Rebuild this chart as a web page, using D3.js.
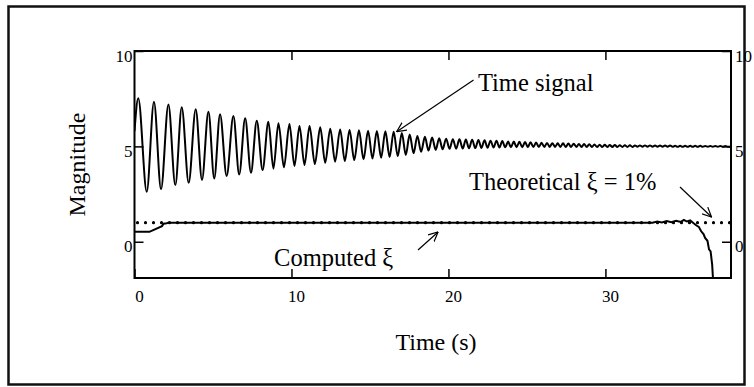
<!DOCTYPE html>
<html>
<head>
<meta charset="utf-8">
<script src="https://cdn.jsdelivr.net/npm/d3@7"></script>
<style>
  body { margin: 0; background: #fff; }
  text { font-family: "Liberation Serif", "Times New Roman", serif; fill: #000; }
</style>
</head>
<body>
<svg id="chart" width="754" height="387"></svg>
<script>
// time signal extrema (s, magnitude)
const startPoint = [0, 5.8];
const endPoint = [38, 5.0];
const peakT = [0.24, 1.24, 2.16, 3.01, 3.90, 4.71, 5.45, 6.30, 7.05, 7.79, 8.53, 9.17, 9.87, 10.51, 11.15, 11.83, 12.47, 13.10, 13.7,
  14.3, 14.88, 15.44, 15.98, 16.51, 17.03, 17.53, 18.02, 18.5, 18.96,
  19.41, 19.85, 20.28, 20.7, 21.11, 21.51, 21.91, 22.3, 22.68, 23.06,
  23.43, 23.8, 24.16, 24.52, 24.88, 25.23, 25.58, 25.93, 26.28, 26.62,
  26.96, 27.3, 27.64, 27.98, 28.31, 28.64, 28.97, 29.3, 29.63, 29.96,
  30.28, 30.6, 30.92, 31.24, 31.56, 31.88, 32.2, 32.52, 32.84, 33.16,
  33.48, 33.8, 34.12, 34.44, 34.76, 35.08, 35.4, 35.72, 36.04, 36.36,
  36.68, 37.0, 37.32, 37.64];
const peakV = [7.52, 7.34, 7.2, 7.05, 6.94, 6.82, 6.68, 6.59, 6.47, 6.35, 6.29, 6.21, 6.17, 6.07, 6.07, 6.0, 5.93, 5.89, 5.86,
  5.84, 5.82, 5.8, 5.79, 5.77, 5.7, 5.62, 5.55, 5.5, 5.46,
  5.43, 5.4, 5.38, 5.37, 5.36, 5.35, 5.34, 5.32, 5.3, 5.29,
  5.28, 5.26, 5.25, 5.24, 5.23, 5.22, 5.2, 5.19, 5.18, 5.17,
  5.16, 5.16, 5.15, 5.14, 5.13, 5.12, 5.11, 5.1, 5.09, 5.08,
  5.07, 5.07, 5.06, 5.06, 5.06, 5.05, 5.05, 5.05, 5.05, 5.04,
  5.04, 5.04, 5.04, 5.03, 5.03, 5.03, 5.03, 5.03, 5.03, 5.02,
  5.02, 5.02, 5.02, 5.02];
const troughT = [0.78, 1.69, 2.6, 3.45, 4.3, 5.08, 5.87, 6.67, 7.42, 8.16, 8.85, 9.52, 10.19, 10.83, 11.49, 12.15, 12.78, 13.4, 14.0,
  14.59, 15.16, 15.71, 16.25, 16.77, 17.28, 17.78, 18.26, 18.73, 19.19,
  19.63, 20.07, 20.49, 20.91, 21.31, 21.71, 22.1, 22.49, 22.87, 23.25,
  23.62, 23.98, 24.34, 24.7, 25.06, 25.41, 25.76, 26.11, 26.45, 26.79,
  27.13, 27.47, 27.81, 28.15, 28.48, 28.81, 29.14, 29.47, 29.8, 30.12,
  30.44, 30.76, 31.08, 31.4, 31.72, 32.04, 32.36, 32.68, 33.0, 33.32,
  33.64, 33.96, 34.28, 34.6, 34.92, 35.24, 35.56, 35.88, 36.2, 36.52,
  36.84, 37.16, 37.48, 37.8];
const troughV = [2.62, 2.75, 2.97, 3.09, 3.24, 3.32, 3.45, 3.53, 3.62, 3.76, 3.83, 3.9, 3.97, 4.02, 4.07, 4.14, 4.2, 4.23, 4.28,
  4.32, 4.36, 4.4, 4.44, 4.48, 4.55, 4.64, 4.72, 4.78, 4.82,
  4.85, 4.87, 4.88, 4.89, 4.9, 4.91, 4.92, 4.93, 4.94, 4.94,
  4.95, 4.95, 4.96, 4.96, 4.96, 4.97, 4.97, 4.97, 4.97, 4.97,
  4.97, 4.97, 4.97, 4.97, 4.97, 4.97, 4.97, 4.97, 4.97, 4.97,
  4.97, 4.97, 4.97, 4.97, 4.97, 4.98, 4.98, 4.98, 4.98, 4.98,
  4.98, 4.98, 4.98, 4.98, 4.98, 4.98, 4.98, 4.98, 4.98, 4.98,
  4.98, 4.98, 4.98, 4.98];

// computed damping ratio (%)
const xiT = [0, 0.95, 1.75, 1.85, 2.05, 2.15, 33.0, 33.3, 33.6, 33.9, 34.2, 34.5, 34.8, 35.0, 35.2, 35.4,
  35.6, 35.8, 35.95, 36.1, 36.25, 36.35, 36.5, 36.6, 36.7, 36.8, 36.85];
const xiV = [0.52, 0.52, 0.82, 0.95, 0.97, 1.0, 1.0, 1.06, 1.01, 1.09, 1.03, 1.1, 1.04, 1.14, 1.06, 1.12,
  0.98, 0.85, 0.78, 0.55, 0.4, 0.2, 0.05, -0.4, -0.5, -1.2, -1.9];
const theoreticalXi = 1;

const xTicks = [0, 10, 20, 30];
const yTicks = [0, 5, 10];

const width = 754, height = 387;
const plot = { left: 134.5, right: 731, top: 51, bottom: 278 };

const svg = d3.select("#chart");

const x = d3.scaleLinear().domain([0, 38]).range([plot.left, plot.right]);
const y = d3.scaleLinear().domain([-1.9, 10]).range([plot.bottom, plot.top]);

// outer frame
svg.append("rect")
    .attr("x", 8.5).attr("y", 6.5)
    .attr("width", 736).attr("height", 378)
    .attr("fill", "none")
    .attr("stroke", "#111")
    .attr("stroke-width", 2.5);

svg.append("defs").append("clipPath").attr("id", "clip")
  .append("rect")
    .attr("x", plot.left).attr("y", plot.top)
    .attr("width", plot.right - plot.left).attr("height", plot.bottom - plot.top);

svg.append("defs").append("marker")
    .attr("id", "arrow")
    .attr("viewBox", "0 0 10 10")
    .attr("refX", 9.5).attr("refY", 5)
    .attr("markerWidth", 10).attr("markerHeight", 10)
    .attr("markerUnits", "userSpaceOnUse")
    .attr("orient", "auto")
  .append("path")
    .attr("d", "M0,0.5 L9.5,5 L0,9.5")
    .attr("fill", "none")
    .attr("stroke", "#000")
    .attr("stroke-width", 1.2);

// axes (ticks point inward)
const fontTick = "17px";
const leftAxis = svg.append("g")
    .attr("transform", `translate(${plot.left},0)`)
    .call(d3.axisLeft(y).tickValues(yTicks).tickSize(-9).tickPadding(2));
const rightAxis = svg.append("g")
    .attr("transform", `translate(${plot.right},0)`)
    .call(d3.axisRight(y).tickValues(yTicks).tickSize(-9).tickPadding(4));
const bottomAxis = svg.append("g")
    .attr("transform", `translate(0,${plot.bottom})`)
    .call(d3.axisBottom(x).tickValues(xTicks).tickSize(-9).tickPadding(12));
const topAxis = svg.append("g")
    .attr("transform", `translate(0,${plot.top})`)
    .call(d3.axisTop(x).tickValues(xTicks.slice(1)).tickSize(-9).tickFormat(""));

[leftAxis, rightAxis, bottomAxis, topAxis].forEach(a => {
    a.select(".domain").remove();
    a.selectAll("line").attr("stroke", "#000").attr("stroke-width", 1.5);
    a.selectAll("text")
        .style("font-family", "'Liberation Serif', 'Times New Roman', serif")
        .style("font-size", fontTick)
        .attr("fill", "#000");
});
leftAxis.selectAll("text").attr("dy", "0.6em");
rightAxis.selectAll("text").attr("dy", "0.6em");
bottomAxis.selectAll("text").attr("dx", 4.5);

// plot frame
svg.append("rect")
    .attr("x", plot.left).attr("y", plot.top)
    .attr("width", plot.right - plot.left).attr("height", plot.bottom - plot.top)
    .attr("fill", "none")
    .attr("stroke", "#000")
    .attr("stroke-width", 2);

const g = svg.append("g").attr("clip-path", "url(#clip)");

// time signal
const extrema = d3.zip(peakT, peakV).concat(d3.zip(troughT, troughV));
const signal = [startPoint].concat(extrema.sort((a, b) => a[0] - b[0]), [endPoint]);
g.append("path")
    .datum(signal)
    .attr("fill", "none")
    .attr("stroke", "#000")
    .attr("stroke-width", 2)
    .attr("stroke-linejoin", "round")
    .attr("d", d3.line().x(d => x(d[0])).y(d => y(d[1])).curve(d3.curveMonotoneX));

// computed xi
g.append("path")
    .datum(d3.zip(xiT, xiV))
    .attr("fill", "none")
    .attr("stroke", "#000")
    .attr("stroke-width", 2)
    .attr("d", d3.line().x(d => x(d[0])).y(d => y(d[1])));

// theoretical xi
g.append("line")
    .attr("x1", x(0) + 3).attr("x2", x(38))
    .attr("y1", y(theoreticalXi)).attr("y2", y(theoreticalXi))
    .attr("stroke", "#000")
    .attr("stroke-width", 3.2)
    .attr("stroke-linecap", "round")
    .attr("stroke-dasharray", "0,8");

// annotations, placed in data units
const notes = [
    { text: "Time signal", at: [21.88, 7.88], from: [21.6, 8.48], to: [16.7, 5.77] },
    { text: "Theoretical \u03be = 1%", at: [21.31, 2.71], from: [34.75, 2.87], to: [36.76, 1.3] },
    { text: "Computed \u03be", at: [8.89, -1.27], from: [18.06, -0.43], to: [19.34, 0.51] }
];
notes.forEach(n => {
    svg.append("text")
        .attr("x", x(n.at[0]))
        .attr("y", y(n.at[1]))
        .style("font-size", "24.5px")
        .text(n.text);
    svg.append("line")
        .attr("x1", x(n.from[0])).attr("y1", y(n.from[1]))
        .attr("x2", x(n.to[0])).attr("y2", y(n.to[1]))
        .attr("stroke", "#000")
        .attr("stroke-width", 1.2)
        .attr("marker-end", "url(#arrow)");
});

// axis titles
svg.append("text")
    .attr("transform", `translate(85,${(plot.top + plot.bottom) / 2}) rotate(-90)`)
    .attr("text-anchor", "middle")
    .style("font-size", "24px")
    .text("Magnitude");

svg.append("text")
    .attr("x", 436)
    .attr("y", 350)
    .attr("text-anchor", "middle")
    .style("font-size", "24px")
    .text("Time (s)");
</script>
</body>
</html>
